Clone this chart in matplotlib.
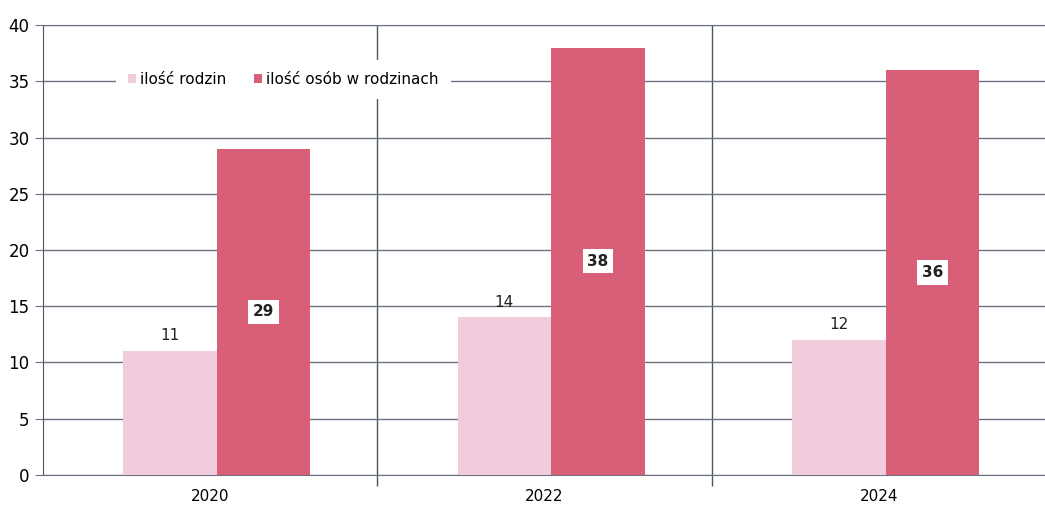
import matplotlib
matplotlib.use('Agg')
import matplotlib.pyplot as plt
import numpy as np

lata = ['2020', '2022', '2024']
rodziny = [11, 14, 12]
osoby = [29, 38, 36]

kolor_jasny = '#F1CCDC'
kolor_ciemny = '#D95E78'

fig = plt.figure(figsize=(10.45, 5.05), dpi=100)
ax = fig.add_axes([0.041, 0.06, 0.96, 0.89])

x = np.arange(len(lata))
w = 0.28

b1 = ax.bar(x - w / 2 + 0.02, rodziny, w, color=kolor_jasny, label='ilość rodzin', zorder=3)
b2 = ax.bar(x + w / 2 + 0.02, osoby, w, color=kolor_ciemny, label='ilość osób w rodzinach', zorder=3)

# etykiety nad jasnymi słupkami
for xi, v in zip(x, rodziny):
    ax.text(xi - w / 2 + 0.02, v + 0.7, str(v), ha='center', va='bottom', fontsize=11, color='#222222')

# etykiety w białych ramkach na ciemnych słupkach
for xi, v in zip(x, osoby):
    ax.text(xi + w / 2 + 0.02, v * 0.5, str(v), ha='center', va='center', fontsize=11,
            fontweight='semibold', color='#222222', zorder=5,
            bbox=dict(boxstyle='square,pad=0.3', fc='white', ec='none'))

ax.set_xlim(-0.5, 2.5)
ax.set_ylim(0, 40)
ax.set_yticks(np.arange(0, 41, 5))
ax.set_xticks(x)
ax.set_xticklabels(lata)

# linie podziału między grupami
ax.set_xticks([0.5, 1.5], minor=True)
ax.tick_params(axis='x', which='minor', length=8, color='#4a5566', width=1.0)
ax.grid(axis='x', which='minor', color='#4a5566', linewidth=1.0, zorder=1)
ax.grid(axis='y', which='major', color='#6b7380', linewidth=1.0, zorder=1)

ax.tick_params(axis='x', which='major', length=0, labelsize=11, pad=10)
ax.tick_params(axis='y', length=6, labelsize=12, color='#6b7380')

ax.spines['right'].set_visible(False)
ax.spines['top'].set_color('#6b7380')
ax.spines['left'].set_color('#4a5566')
ax.spines['bottom'].set_color('#6b7380')

ax.legend(loc='upper left', bbox_to_anchor=(0.065, 0.94), ncol=2, frameon=True,
          fancybox=False, edgecolor='none', facecolor='white', framealpha=1,
          fontsize=11, handlelength=0.5, handleheight=0.5, handletextpad=0.3,
          columnspacing=1.8, borderpad=0.8)

plt.savefig('out.png', dpi=100)
